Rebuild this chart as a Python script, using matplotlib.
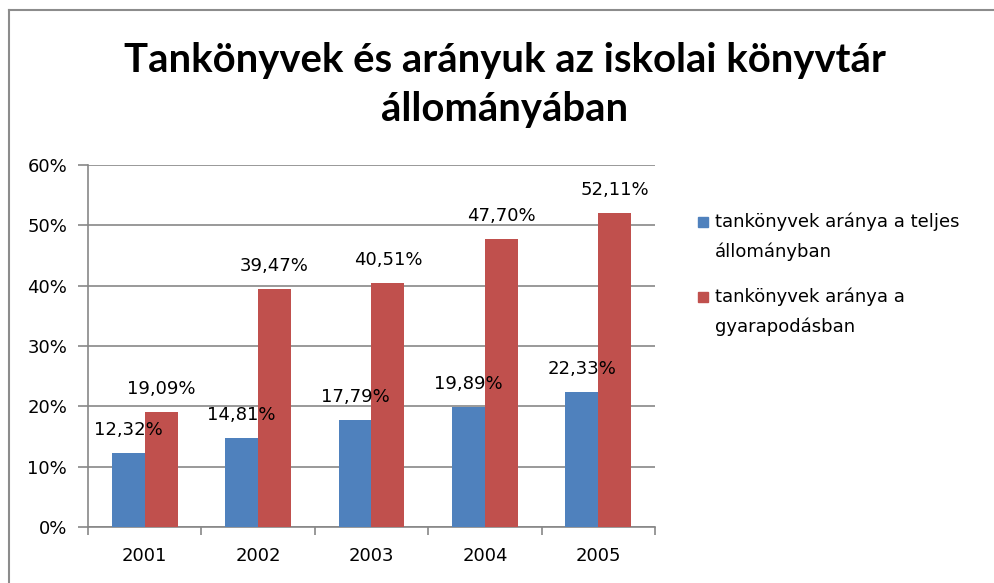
import matplotlib
matplotlib.use("Agg")
import matplotlib.pyplot as plt
import numpy as np
from matplotlib.lines import Line2D
from matplotlib.patches import Rectangle

years = ["2001", "2002", "2003", "2004", "2005"]
teljes = [12.32, 14.81, 17.79, 19.89, 22.33]
gyarapodas = [19.09, 39.47, 40.51, 47.70, 52.11]
series_names = ["tankönyvek aránya a teljes\nállományban", "tankönyvek aránya a\ngyarapodásban"]
title = "Tankönyvek és arányuk az iskolai könyvtár\nállományában"
yticks = [0, 10, 20, 30, 40, 50, 60]

plt.rcParams['font.family'] = ['DejaVu Sans']
BLUE = "#4F81BD"
RED = "#C0504D"
GRID = "#878787"
FS = 13

fig = plt.figure(figsize=(9.95, 5.83), dpi=100)
W, H = 995, 583
ax = fig.add_axes([88/W, 56/H, (655-88)/W, (527-165)/H])

x = np.arange(len(years))
w = 0.29
b1 = ax.bar(x - w/2, teljes, w, color=BLUE, zorder=3)
b2 = ax.bar(x + w/2, gyarapodas, w, color=RED, zorder=3)

def fmt(v):
    return f"{v:.2f}".replace(".", ",") + "%"

for bars, vals in ((b1, teljes), (b2, gyarapodas)):
    for r, v in zip(bars, vals):
        ax.annotate(fmt(v), (r.get_x() + r.get_width()/2, v), xytext=(0, 16.5),
                    textcoords="offset points", ha="center", va="center",
                    fontsize=FS, color="black", zorder=5)

ax.set_xlim(-0.5, len(years) - 0.5)
ax.set_ylim(0, 60)
ax.set_yticks(yticks)
ax.set_yticklabels([f"{t}%" for t in yticks], fontsize=FS)
ax.yaxis.grid(True, color=GRID, linewidth=1.2, zorder=0)
ax.set_xticks(x)
ax.set_xticklabels(years, fontsize=FS)
ax.tick_params(axis='x', length=0, pad=14.5)
ax.set_xticks(np.arange(-0.5, len(years)), minor=True)
ax.tick_params(axis='x', which='minor', length=6, color=GRID, width=1.2)
ax.tick_params(axis='y', length=7, color=GRID, width=1.2, pad=8)
for s in ("top", "right"):
    ax.spines[s].set_visible(False)
for s in ("left", "bottom"):
    ax.spines[s].set_color(GRID)
    ax.spines[s].set_linewidth(1.2)

fig.text(505/W, 1 - 85/H, title, ha="center", va="center", fontsize=28.8,
         fontweight="bold", linespacing=1.38, family=['Lato', 'DejaVu Sans'])

# legend
colors = [BLUE, RED]
for i, (name, c) in enumerate(zip(series_names, colors)):
    y0 = 222 + 75 * i
    fig.add_artist(Rectangle((698/W, 1 - (y0 + 5)/H), 10/W, 10/H, color=c,
                             transform=fig.transFigure))
    for j, line in enumerate(name.split("\n")):
        fig.text(715/W, 1 - (y0 + 30 * j)/H, line, ha="left", va="center",
                 fontsize=FS, color="black")

# outer chart border (top and left visible)
fig.add_artist(Line2D([9/W, 9/W], [0, 1 - 10/H], color="#8c8c8c", lw=1.5, transform=fig.transFigure))
fig.add_artist(Line2D([9/W, 1], [1 - 10/H, 1 - 10/H], color="#8c8c8c", lw=1.5, transform=fig.transFigure))

fig.savefig("out.png", dpi=100)
